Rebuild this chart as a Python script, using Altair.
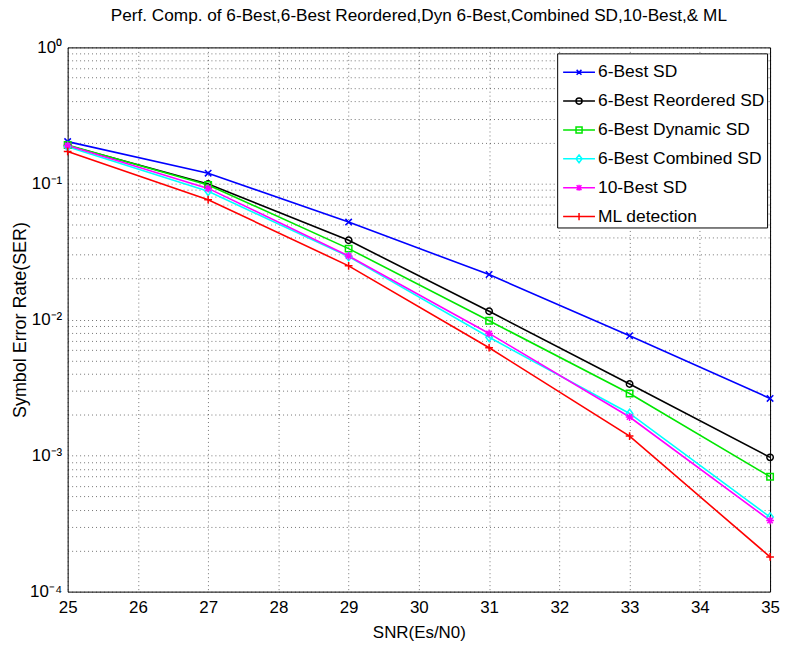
import altair as alt
import pandas as pd

snr = [25, 27, 29, 31, 33, 35]
series_names = ["6-Best SD", "6-Best Reordered SD", "6-Best Dynamic SD",
                "6-Best Combined SD", "10-Best SD", "ML detection"]
ser_6best = [0.203, 0.119, 0.052, 0.0214, 0.0076, 0.00263]
ser_6best_reordered = [0.190, 0.099, 0.0382, 0.0115, 0.00336, 0.00097]
ser_6best_dynamic = [0.192, 0.0975, 0.0332, 0.0098, 0.00286, 0.000699]
ser_6best_combined = [0.186, 0.0876, 0.0290, 0.0074, 0.00204, 0.000353]
ser_10best = [0.190, 0.092, 0.0293, 0.0079, 0.00192, 0.000333]
ser_ml = [0.172, 0.076, 0.0248, 0.0062, 0.00139, 0.00018]
x_ticks = list(range(25, 36))

colors = ["#0000ff", "#000000", "#00e600", "#00ffff", "#ff00ff", "#ff0000"]

marker_paths = [
    "M-1,-1L1,1M-1,1L1,-1",
    "M-1,0A1,1,0,1,1,1,0A1,1,0,1,1,-1,0Z",
    "M-1,-1L1,-1L1,1L-1,1Z",
    "M0,-1.3L1,0L0,1.3L-1,0Z",
    "M-1.2,0L1.2,0M0,-1.2L0,1.2M-0.85,-0.85L0.85,0.85M-0.85,0.85L0.85,-0.85",
    "M-1.2,0L1.2,0M0,-1.2L0,1.2",
]
r = 0.19
legend_paths = [
    "M-1,0L1,0" + f"M-{r*0.8},-{r*0.8}L{r*0.8},{r*0.8}M-{r*0.8},{r*0.8}L{r*0.8},-{r*0.8}",
    "M-1,0L1,0" + f"M-{r},0A{r},{r},0,1,1,{r},0A{r},{r},0,1,1,-{r},0Z",
    "M-1,0L1,0" + f"M-{r},-{r}L{r},-{r}L{r},{r}L-{r},{r}Z",
    "M-1,0L1,0" + f"M0,-{r*1.3}L{r},0L0,{r*1.3}L-{r},0Z",
    "M-1,0L1,0" + f"M0,-{r}L0,{r}M-{r*0.8},-{r*0.8}L{r*0.8},{r*0.8}M-{r*0.8},{r*0.8}L{r*0.8},-{r*0.8}",
    "M-1,0L1,0" + f"M0,-{r*1.2}L0,{r*1.2}",
]

all_series = [ser_6best, ser_6best_reordered, ser_6best_dynamic,
              ser_6best_combined, ser_10best, ser_ml]
rows = []
for name, vals in zip(series_names, all_series):
    for x, v in zip(snr, vals):
        rows.append({"snr": x, "ser": v, "series": name})
df = pd.DataFrame(rows)

decades = {1: "10⁰", 0.1: "10⁻¹", 0.01: "10⁻²", 0.001: "10⁻³", 0.0001: "10⁻⁴"}
y_grid = [round(k * 10 ** e, 10) for e in range(-4, 0) for k in range(1, 10)] + [1]
label_expr = " : ".join(
    [f"datum.value == {v} ? '{t}'" for v, t in decades.items()]) + " : ''"

FONT = "Liberation Sans, Arial, sans-serif"

x_enc = alt.X("snr:Q", scale=alt.Scale(domain=[25, 35], nice=False),
              axis=alt.Axis(values=x_ticks, title="SNR(Es/N0)", format="d",
                            grid=True, gridDash=[1, 3], gridColor="#000",
                            gridOpacity=0.55, ticks=False, domain=False,
                            labelFlush=False,
                            labelFontSize=17, labelPadding=8, labelColor="#000",
                            titleFontSize=17, titleFontWeight="normal",
                            titlePadding=9, titleColor="#000",
                            labelFont=FONT, titleFont=FONT))
y_enc = alt.Y("ser:Q", scale=alt.Scale(type="log", domain=[0.0001, 1], nice=False),
              axis=alt.Axis(values=y_grid, labelExpr=label_expr,
                            title="Symbol Error Rate(SER)",
                            grid=True, gridDash=[1, 3], gridColor="#000",
                            gridOpacity=0.55, ticks=False, domain=False,
                            labelFlush=False,
                            labelFontSize=17, labelPadding=6, labelColor="#000",
                            titleFontSize=18, titleFontWeight="normal",
                            titlePadding=0, titleColor="#000",
                            labelFont=FONT, titleFont=FONT))

stroke_scale = alt.Scale(domain=series_names, range=colors)

lines = alt.Chart(df).mark_line(strokeWidth=1.6).encode(
    x=x_enc, y=y_enc,
    stroke=alt.Stroke("series:N", scale=stroke_scale, legend=None),
    order=alt.Order("snr:Q"),
)
points = alt.Chart(df).mark_point(filled=False, strokeWidth=1.5, size=42, opacity=1).encode(
    x="snr:Q", y="ser:Q",
    stroke=alt.Stroke("series:N", scale=stroke_scale, legend=None),
    shape=alt.Shape("series:N", scale=alt.Scale(domain=series_names, range=marker_paths),
                    legend=None),
)

leg = alt.Legend(title=None, orient="none", legendX=492, legendY=6,
                 strokeColor="#000", fillColor="#fff", padding=2,
                 symbolSize=1024, symbolStrokeWidth=1.5, symbolOpacity=1,
                 symbolFillColor="transparent",
                 labelFont=FONT, labelFontSize=17.5, labelColor="#000",
                 labelLimit=400,
                 labelOffset=2, rowPadding=3, symbolOffset=3, cornerRadius=0)
legend_layer = alt.Chart(df).mark_point(filled=False, strokeWidth=1.5).encode(
    x="snr:Q", y="ser:Q",
    color=alt.Color("series:N", scale=alt.Scale(domain=series_names, range=colors),
                    legend=leg, sort=series_names),
    shape=alt.Shape("series:N", scale=alt.Scale(domain=series_names, range=legend_paths),
                    legend=leg, sort=series_names),
).transform_filter("false")

chart = alt.layer(lines, points, legend_layer).resolve_scale(
    shape="independent", color="independent"
).resolve_legend(
    shape="independent", color="independent"
).properties(
    width=706, height=547,
    title=alt.TitleParams("Perf. Comp. of 6-Best,6-Best Reordered,Dyn 6-Best,Combined SD,10-Best,& ML",
                          font=FONT, fontSize=17.3, fontWeight="normal", color="#000",
                          anchor="middle", offset=14),
    background="#fff",
    padding={"left": 11, "top": 5, "right": 5, "bottom": 0},
).configure_view(stroke="#000", strokeWidth=1)

chart.save("out.html", embed_options={"renderer": "svg", "actions": False})
